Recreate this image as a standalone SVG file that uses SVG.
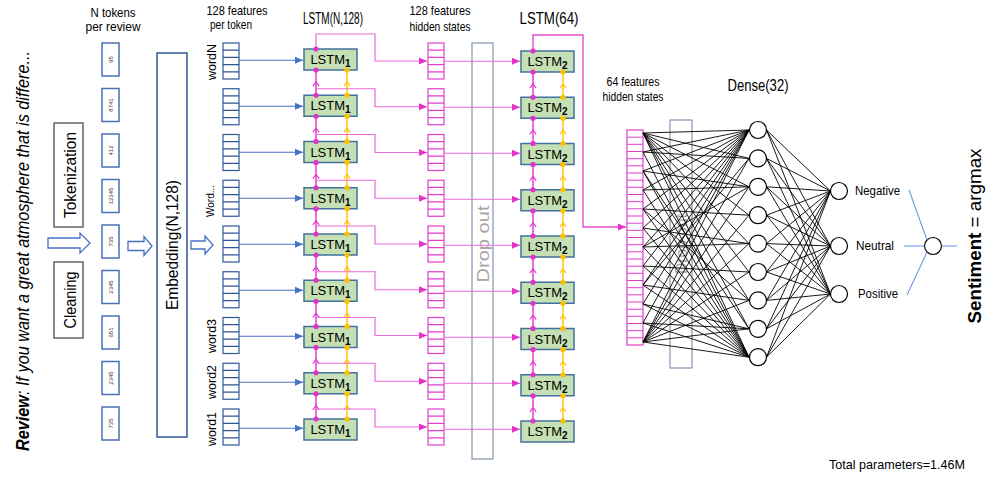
<svg xmlns="http://www.w3.org/2000/svg" width="987" height="477" viewBox="0 0 987 477">
<defs>
<style>
text{font-family:"Liberation Sans",Arial,sans-serif;fill:#000}
.hd{font-size:13px;text-anchor:middle}
.hs{font-size:12px;text-anchor:middle}
.ttl{font-size:16px;text-anchor:middle}
.side{font-size:17px;text-anchor:middle}
.wl{font-size:12.5px;text-anchor:middle}
.num{font-size:6px;text-anchor:middle;fill:#333}
.lt{font-size:13px;text-anchor:middle}
.sub{font-size:10px;font-weight:bold}
.drop{font-size:16px;text-anchor:middle;fill:#a6a6a6}
.out{font-size:13.5px}
.tok{fill:#fff;stroke:#4a70b8;stroke-width:1.5}
.wv{fill:#fff;stroke:#2f5597;stroke-width:1.2}
.hv{fill:#fff;stroke:#e23ccb;stroke-width:1.2}
.lstm{fill:#c5e0b4;stroke:#41719c;stroke-width:1.5}
.drp{fill:none;stroke:#8497b0;stroke-width:1.2}
.neu{fill:#fff;stroke:#000;stroke-width:1.2}
.blk{fill:#fff;stroke:#4472c4;stroke-width:1.3}
.in{fill:none;stroke:#4472c4;stroke-width:1.2;marker-end:url(#ahBlue)}
.route{fill:none;stroke:#ec6ad9;stroke-width:1.2;marker-end:url(#ahPink)}
.vp{fill:none;stroke:#e233c8;stroke-width:1.4;marker-start:url(#dotPink);marker-mid:url(#chevPink);marker-end:url(#dotPink)}
.vo{fill:none;stroke:#ffc000;stroke-width:1.4;marker-start:url(#dotOrange);marker-mid:url(#chevOrange);marker-end:url(#dotOrange)}
.fc{fill:none;stroke:#000;stroke-width:0.9}
.sm{fill:none;stroke:#6f9be0;stroke-width:1.1}
</style>
<marker id="ahBlue" markerUnits="userSpaceOnUse" markerWidth="9" markerHeight="8" refX="8" refY="4" orient="auto"><path d="M0,0.5L8,4L0,7.5z" fill="#4472c4"/></marker>
<marker id="ahPink" markerUnits="userSpaceOnUse" markerWidth="9" markerHeight="8" refX="8" refY="4" orient="auto"><path d="M0,0.5L8,4L0,7.5z" fill="#e233c8"/></marker>
<marker id="dotPink" markerUnits="userSpaceOnUse" markerWidth="6" markerHeight="6" refX="3" refY="3" orient="auto"><circle cx="3" cy="3" r="2.6" fill="#e233c8"/></marker>
<marker id="dotOrange" markerUnits="userSpaceOnUse" markerWidth="6" markerHeight="6" refX="3" refY="3" orient="auto"><circle cx="3" cy="3" r="2.6" fill="#ffc000"/></marker>
<marker id="chevPink" markerUnits="userSpaceOnUse" markerWidth="10" markerHeight="10" refX="5" refY="5" orient="auto"><path d="M1.5,1.8L5.8,5L1.5,8.2" fill="none" stroke="#e233c8" stroke-width="1.1"/></marker>
<marker id="chevOrange" markerUnits="userSpaceOnUse" markerWidth="10" markerHeight="10" refX="5" refY="5" orient="auto"><path d="M1.5,1.8L5.8,5L1.5,8.2" fill="none" stroke="#ffc000" stroke-width="1.1"/></marker>
<g id="vec"><rect x="0" y="0" width="16" height="36"/><path d="M0,7.2h16M0,14.4h16M0,21.6h16M0,28.8h16"/></g>
</defs>
<rect width="987" height="477" fill="#fff"/>

<!-- input text and preprocessing -->
<g id="review"><text transform="translate(29,251) rotate(-90)" font-size="18" font-style="italic" text-anchor="middle" textLength="400" lengthAdjust="spacingAndGlyphs"><tspan font-weight="bold">Review</tspan>: If you want a great atmosphere that is differe...</text></g>
<g id="tokenization"><rect x="54" y="123" width="29" height="104" fill="#fff" stroke="#595959" stroke-width="1.4"/><text class="side" font-size="18" transform="translate(75.5,175) rotate(-90)" textLength="86" lengthAdjust="spacingAndGlyphs">Tokenization</text></g>
<g id="cleaning"><rect x="54" y="262" width="29" height="76" fill="#fff" stroke="#595959" stroke-width="1.4"/><text class="side" font-size="18" transform="translate(75.5,300) rotate(-90)" textLength="57" lengthAdjust="spacingAndGlyphs">Cleaning</text></g>

<!-- column headings -->
<g id="headings">
<text class="hd" x="113" y="17" textLength="45" lengthAdjust="spacingAndGlyphs">N tokens</text>
<text class="hd" x="113" y="30.5" textLength="55" lengthAdjust="spacingAndGlyphs">per review</text>
<text class="hd" x="237" y="15" textLength="61" lengthAdjust="spacingAndGlyphs">128 features</text>
<text class="hd" x="231" y="29" textLength="42" lengthAdjust="spacingAndGlyphs">per token</text>
<text class="ttl" x="333" y="24" textLength="60" lengthAdjust="spacingAndGlyphs">LSTM(N,128)</text>
<text class="hd" x="440" y="15" textLength="61" lengthAdjust="spacingAndGlyphs">128 features</text>
<text class="hd" x="440" y="31" textLength="61" lengthAdjust="spacingAndGlyphs">hidden states</text>
<text class="ttl" x="549" y="24" textLength="59" lengthAdjust="spacingAndGlyphs">LSTM(64)</text>
<text class="hs" x="633" y="86" textLength="53" lengthAdjust="spacingAndGlyphs">64 features</text>
<text class="hs" x="633" y="100.5" textLength="61" lengthAdjust="spacingAndGlyphs">hidden states</text>
<text class="ttl" x="758" y="91" textLength="61" lengthAdjust="spacingAndGlyphs">Dense(32)</text>
<text class="out" x="829" y="469" textLength="136" lengthAdjust="spacingAndGlyphs">Total parameters=1.46M</text>
</g>

<!-- token ids -->
<g id="tokens">
<g id="token-9"><rect class="tok" x="102" y="43" width="17" height="33"/><text class="num" transform="translate(112.5,59.5) rotate(-90)">95</text></g>
<g id="token-8"><rect class="tok" x="102" y="88.5" width="17" height="33"/><text class="num" transform="translate(112.5,105) rotate(-90)">8741</text></g>
<g id="token-7"><rect class="tok" x="102" y="134" width="17" height="33"/><text class="num" transform="translate(112.5,150.5) rotate(-90)">412</text></g>
<g id="token-6"><rect class="tok" x="102" y="179.5" width="17" height="33"/><text class="num" transform="translate(112.5,196) rotate(-90)">12345</text></g>
<g id="token-5"><rect class="tok" x="102" y="225" width="17" height="33"/><text class="num" transform="translate(112.5,241.5) rotate(-90)">735</text></g>
<g id="token-4"><rect class="tok" x="102" y="270.5" width="17" height="33"/><text class="num" transform="translate(112.5,287) rotate(-90)">2345</text></g>
<g id="token-3"><rect class="tok" x="102" y="316" width="17" height="33"/><text class="num" transform="translate(112.5,332.5) rotate(-90)">651</text></g>
<g id="token-2"><rect class="tok" x="102" y="361.5" width="17" height="33"/><text class="num" transform="translate(112.5,378) rotate(-90)">2345</text></g>
<g id="token-1"><rect class="tok" x="102" y="407" width="17" height="33"/><text class="num" transform="translate(112.5,423.5) rotate(-90)">735</text></g>
</g>

<g id="embedding"><rect x="157" y="53" width="30" height="384" fill="#fff" stroke="#2f5597" stroke-width="1.5"/><text class="side" transform="translate(178,245) rotate(-90)" textLength="130" lengthAdjust="spacingAndGlyphs">Embedding(N,128)</text></g>

<!-- word embedding vectors -->
<g id="word-vectors">
<g id="vec-N"><use href="#vec" class="wv" x="223" y="43"/><text class="wl" transform="translate(215.5,62) rotate(-90)">wordN</text></g>
<g id="vec-8"><use href="#vec" class="wv" x="223" y="88.75"/></g>
<g id="vec-7"><use href="#vec" class="wv" x="223" y="134.5"/></g>
<g id="vec-6"><use href="#vec" class="wv" x="223" y="180.25"/><text transform="translate(214,201) rotate(-90)" font-size="10" text-anchor="middle">Word...</text></g>
<g id="vec-5"><use href="#vec" class="wv" x="223" y="226"/></g>
<g id="vec-4"><use href="#vec" class="wv" x="223" y="271.75"/></g>
<g id="vec-3"><use href="#vec" class="wv" x="223" y="317.5"/><text class="wl" transform="translate(215.5,336) rotate(-90)">word3</text></g>
<g id="vec-2"><use href="#vec" class="wv" x="223" y="363.25"/><text class="wl" transform="translate(215.5,382) rotate(-90)">word2</text></g>
<g id="vec-1"><use href="#vec" class="wv" x="223" y="409"/><text class="wl" transform="translate(215.5,429) rotate(-90)">word1</text></g>
</g>

<!-- first LSTM layer -->
<g id="lstm1">
<g id="lstm1-9"><rect class="lstm" x="304" y="49" width="53" height="21"/><text class="lt" x="330.5" y="64">LSTM<tspan class="sub" dy="3">1</tspan></text></g>
<g id="lstm1-8"><rect class="lstm" x="304" y="95.25" width="53" height="21"/><text class="lt" x="330.5" y="110.25">LSTM<tspan class="sub" dy="3">1</tspan></text></g>
<g id="lstm1-7"><rect class="lstm" x="304" y="141.5" width="53" height="21"/><text class="lt" x="330.5" y="156.5">LSTM<tspan class="sub" dy="3">1</tspan></text></g>
<g id="lstm1-6"><rect class="lstm" x="304" y="187.75" width="53" height="21"/><text class="lt" x="330.5" y="202.75">LSTM<tspan class="sub" dy="3">1</tspan></text></g>
<g id="lstm1-5"><rect class="lstm" x="304" y="234" width="53" height="21"/><text class="lt" x="330.5" y="249">LSTM<tspan class="sub" dy="3">1</tspan></text></g>
<g id="lstm1-4"><rect class="lstm" x="304" y="280.25" width="53" height="21"/><text class="lt" x="330.5" y="295.25">LSTM<tspan class="sub" dy="3">1</tspan></text></g>
<g id="lstm1-3"><rect class="lstm" x="304" y="326.5" width="53" height="21"/><text class="lt" x="330.5" y="341.5">LSTM<tspan class="sub" dy="3">1</tspan></text></g>
<g id="lstm1-2"><rect class="lstm" x="304" y="372.75" width="53" height="21"/><text class="lt" x="330.5" y="387.75">LSTM<tspan class="sub" dy="3">1</tspan></text></g>
<g id="lstm1-1"><rect class="lstm" x="304" y="419" width="53" height="21"/><text class="lt" x="330.5" y="434">LSTM<tspan class="sub" dy="3">1</tspan></text></g>
</g>

<!-- hidden states of the first layer -->
<g id="hidden-128">
<g id="h1-9"><use href="#vec" class="hv" x="428" y="43"/></g>
<g id="h1-8"><use href="#vec" class="hv" x="428" y="88.75"/></g>
<g id="h1-7"><use href="#vec" class="hv" x="428" y="134.5"/></g>
<g id="h1-6"><use href="#vec" class="hv" x="428" y="180.25"/></g>
<g id="h1-5"><use href="#vec" class="hv" x="428" y="226"/></g>
<g id="h1-4"><use href="#vec" class="hv" x="428" y="271.75"/></g>
<g id="h1-3"><use href="#vec" class="hv" x="428" y="317.5"/></g>
<g id="h1-2"><use href="#vec" class="hv" x="428" y="363.25"/></g>
<g id="h1-1"><use href="#vec" class="hv" x="428" y="409"/></g>
</g>

<g id="dropout-1"><rect class="drp" x="472" y="43" width="21" height="416"/><text class="drop" transform="translate(489,244) rotate(-90)" textLength="77" lengthAdjust="spacingAndGlyphs">Drop out</text></g>

<!-- second LSTM layer -->
<g id="lstm2">
<g id="lstm2-9"><rect class="lstm" x="521" y="51" width="53" height="21"/><text class="lt" x="547.5" y="66">LSTM<tspan class="sub" dy="3">2</tspan></text></g>
<g id="lstm2-8"><rect class="lstm" x="521" y="97.25" width="53" height="21"/><text class="lt" x="547.5" y="112.25">LSTM<tspan class="sub" dy="3">2</tspan></text></g>
<g id="lstm2-7"><rect class="lstm" x="521" y="143.5" width="53" height="21"/><text class="lt" x="547.5" y="158.5">LSTM<tspan class="sub" dy="3">2</tspan></text></g>
<g id="lstm2-6"><rect class="lstm" x="521" y="189.75" width="53" height="21"/><text class="lt" x="547.5" y="204.75">LSTM<tspan class="sub" dy="3">2</tspan></text></g>
<g id="lstm2-5"><rect class="lstm" x="521" y="236" width="53" height="21"/><text class="lt" x="547.5" y="251">LSTM<tspan class="sub" dy="3">2</tspan></text></g>
<g id="lstm2-4"><rect class="lstm" x="521" y="282.25" width="53" height="21"/><text class="lt" x="547.5" y="297.25">LSTM<tspan class="sub" dy="3">2</tspan></text></g>
<g id="lstm2-3"><rect class="lstm" x="521" y="328.5" width="53" height="21"/><text class="lt" x="547.5" y="343.5">LSTM<tspan class="sub" dy="3">2</tspan></text></g>
<g id="lstm2-2"><rect class="lstm" x="521" y="374.75" width="53" height="21"/><text class="lt" x="547.5" y="389.75">LSTM<tspan class="sub" dy="3">2</tspan></text></g>
<g id="lstm2-1"><rect class="lstm" x="521" y="421" width="53" height="21"/><text class="lt" x="547.5" y="436">LSTM<tspan class="sub" dy="3">2</tspan></text></g>
</g>

<!-- final hidden state vector -->
<g id="hidden-64"><rect x="627" y="130" width="16" height="215" fill="#fff" stroke="#e23ccb" stroke-width="1.2"/><path fill="none" stroke="#e23ccb" stroke-width="1" d="M627,137.2h16M627,144.3h16M627,151.5h16M627,158.7h16M627,165.8h16M627,173h16M627,180.2h16M627,187.3h16M627,194.5h16M627,201.7h16M627,208.8h16M627,216h16M627,223.2h16M627,230.3h16M627,237.5h16M627,244.7h16M627,251.8h16M627,259h16M627,266.2h16M627,273.3h16M627,280.5h16M627,287.7h16M627,294.8h16M627,302h16M627,309.2h16M627,316.3h16M627,323.5h16M627,330.7h16M627,337.8h16"/></g>

<g id="dropout-2"><rect class="drp" x="670" y="120" width="22" height="248" stroke="#6f8fc8"/><text class="drop" font-size="14" fill="#999" transform="translate(687,244) rotate(-90)" textLength="60" lengthAdjust="spacingAndGlyphs">Drop out</text></g>

<!-- dense layer -->
<g id="dense">
<circle id="d1" class="neu" cx="758" cy="130" r="8.5"/>
<circle id="d2" class="neu" cx="758" cy="158.4" r="8.5"/>
<circle id="d3" class="neu" cx="758" cy="186.8" r="8.5"/>
<circle id="d4" class="neu" cx="758" cy="215.2" r="8.5"/>
<circle id="d5" class="neu" cx="758" cy="243.6" r="8.5"/>
<circle id="d6" class="neu" cx="758" cy="272" r="8.5"/>
<circle id="d7" class="neu" cx="758" cy="300.4" r="8.5"/>
<circle id="d8" class="neu" cx="758" cy="328.8" r="8.5"/>
<circle id="d9" class="neu" cx="758" cy="357.2" r="8.5"/>
</g>

<!-- output classes -->
<g id="out-negative"><circle class="neu" cx="839" cy="191" r="8.5"/><text class="out" x="855" y="195" textLength="45" lengthAdjust="spacingAndGlyphs">Negative</text></g>
<g id="out-neutral"><circle class="neu" cx="839" cy="246" r="8.5"/><text class="out" x="856" y="250" textLength="38" lengthAdjust="spacingAndGlyphs">Neutral</text></g>
<g id="out-positive"><circle class="neu" cx="839" cy="294" r="8.5"/><text class="out" x="858" y="298" textLength="40" lengthAdjust="spacingAndGlyphs">Positive</text></g>
<g id="argmax"><circle class="neu" cx="933" cy="246" r="8.5"/></g>
<g id="sentiment"><text transform="translate(981,236) rotate(-90)" font-size="19" text-anchor="middle" textLength="175" lengthAdjust="spacingAndGlyphs"><tspan font-weight="bold">Sentiment</tspan> = argmax</text></g>

<g id="connectors">
<!-- pipeline block arrows -->
<path class="blk" d="M48,238H80V233L90,243L80,253V248H48z"/>
<path class="blk" d="M128,241.5H144V236.5L152,246L144,255.5V250.5H128z"/>
<path class="blk" d="M191,241H205V236L213,245L205,254V249H191z"/>

<!-- embeddings into the first layer -->
<path class="in" d="M239,60.25H303"/>
<path class="in" d="M239,106.25H303"/>
<path class="in" d="M239,152.25H303"/>
<path class="in" d="M239,198.25H303"/>
<path class="in" d="M239,244.25H303"/>
<path class="in" d="M239,290.25H303"/>
<path class="in" d="M239,336.25H303"/>
<path class="in" d="M239,382.25H303"/>
<path class="in" d="M239,428.25H303"/>

<!-- recurrent links, first layer -->
<path class="vp" d="M316,95.25V82.63V70"/>
<path class="vp" d="M316,141.5V128.88V116.25"/>
<path class="vp" d="M316,187.75V175.13V162.5"/>
<path class="vp" d="M316,234V221.38V208.75"/>
<path class="vp" d="M316,280.25V267.63V255"/>
<path class="vp" d="M316,326.5V313.88V301.25"/>
<path class="vp" d="M316,372.75V360.13V347.5"/>
<path class="vp" d="M316,419V406.38V393.75"/>
<path class="vo" d="M347,95.25V82.63V70"/>
<path class="vo" d="M347,141.5V128.88V116.25"/>
<path class="vo" d="M347,187.75V175.13V162.5"/>
<path class="vo" d="M347,234V221.38V208.75"/>
<path class="vo" d="M347,280.25V267.63V255"/>
<path class="vo" d="M347,326.5V313.88V301.25"/>
<path class="vo" d="M347,372.75V360.13V347.5"/>
<path class="vo" d="M347,419V406.38V393.75"/>

<!-- first layer outputs to hidden states -->
<path class="route" style="marker-start:url(#dotPink)" d="M316,49V34H375V61H427"/>
<path class="route" d="M316,88.75H375V106.75H427"/>
<path class="route" d="M316,134.5H375V152.5H427"/>
<path class="route" d="M316,180.25H375V198.25H427"/>
<path class="route" d="M316,226H375V244H427"/>
<path class="route" d="M316,271.75H375V289.75H427"/>
<path class="route" d="M316,317.5H375V335.5H427"/>
<path class="route" d="M316,363.25H375V381.25H427"/>
<path class="route" d="M316,409H375V427H427"/>

<!-- hidden states into the second layer -->
<path class="route" d="M444,61.25H520"/>
<path class="route" d="M444,107.25H520"/>
<path class="route" d="M444,153.25H520"/>
<path class="route" d="M444,199.25H520"/>
<path class="route" d="M444,245.25H520"/>
<path class="route" d="M444,291.25H520"/>
<path class="route" d="M444,337.25H520"/>
<path class="route" d="M444,383.25H520"/>
<path class="route" d="M444,429.25H520"/>

<!-- recurrent links, second layer -->
<path class="vp" d="M533,97.25V84.63V72"/>
<path class="vp" d="M533,143.5V130.88V118.25"/>
<path class="vp" d="M533,189.75V177.13V164.5"/>
<path class="vp" d="M533,236V223.38V210.75"/>
<path class="vp" d="M533,282.25V269.63V257"/>
<path class="vp" d="M533,328.5V315.88V303.25"/>
<path class="vp" d="M533,374.75V362.13V349.5"/>
<path class="vp" d="M533,421V408.38V395.75"/>
<path class="vo" d="M563,97.25V84.63V72"/>
<path class="vo" d="M563,143.5V130.88V118.25"/>
<path class="vo" d="M563,189.75V177.13V164.5"/>
<path class="vo" d="M563,236V223.38V210.75"/>
<path class="vo" d="M563,282.25V269.63V257"/>
<path class="vo" d="M563,328.5V315.88V303.25"/>
<path class="vo" d="M563,374.75V362.13V349.5"/>
<path class="vo" d="M563,421V408.38V395.75"/>

<!-- last hidden state out of the second layer -->
<path class="route" style="stroke:#e54fd0;stroke-width:1.4;marker-start:url(#dotPink)" d="M533,51V35H583V227H626"/>

<!-- fully connected: hidden state to dense -->
<path class="fc" d="M643,133L749,130M643,133L749,158.4M643,133L749,186.8M643,133L749,215.2M643,133L749,243.6M643,133L749,272M643,133L749,300.4M643,133L749,328.8M643,133L749,357.2"/>
<path class="fc" d="M643,342L749,130M643,342L749,158.4M643,342L749,186.8M643,342L749,215.2M643,342L749,243.6M643,342L749,272M643,342L749,300.4M643,342L749,328.8M643,342L749,357.2"/>
<path class="fc" d="M643,152L749,130M643,171L749,130M643,190L749,130M643,209L749,130M643,228L749,130M643,247L749,130M643,266L749,130M643,285L749,130M643,304L749,130M643,323L749,130"/>
<path class="fc" d="M643,152L749,357.2M643,171L749,357.2M643,190L749,357.2M643,209L749,357.2M643,228L749,357.2M643,247L749,357.2M643,266L749,357.2M643,285L749,357.2M643,304L749,357.2M643,323L749,357.2"/>
<path class="fc" d="M643,152L749,158.4M643,171L749,186.8M643,190L749,186.8M643,209L749,215.2M643,228L749,243.6M643,247L749,243.6M643,266L749,272M643,285L749,300.4M643,304L749,328.8M643,323L749,328.8"/>
<path class="fc" d="M643,171L749,328.8M643,209L749,300.4M643,247L749,186.8M643,285L749,158.4"/>

<!-- fully connected: dense to outputs -->
<path class="fc" d="M766.5,130L830.5,191M766.5,158.4L830.5,191M766.5,186.8L830.5,191M766.5,215.2L830.5,191M766.5,243.6L830.5,191M766.5,272L830.5,191M766.5,300.4L830.5,191M766.5,328.8L830.5,191M766.5,357.2L830.5,191"/>
<path class="fc" d="M766.5,130L830.5,246M766.5,158.4L830.5,246M766.5,186.8L830.5,246M766.5,215.2L830.5,246M766.5,243.6L830.5,246M766.5,272L830.5,246M766.5,300.4L830.5,246M766.5,328.8L830.5,246M766.5,357.2L830.5,246"/>
<path class="fc" d="M766.5,130L830.5,294M766.5,158.4L830.5,294M766.5,186.8L830.5,294M766.5,215.2L830.5,294M766.5,243.6L830.5,294M766.5,272L830.5,294M766.5,300.4L830.5,294M766.5,328.8L830.5,294M766.5,357.2L830.5,294"/>

<!-- class scores to argmax -->
<path class="sm" d="M909,190L927,240"/>
<path class="sm" d="M904,246H924.5"/>
<path class="sm" d="M907,295L927,252"/>
<path class="sm" d="M941.5,246H957"/>
</g>
</svg>
